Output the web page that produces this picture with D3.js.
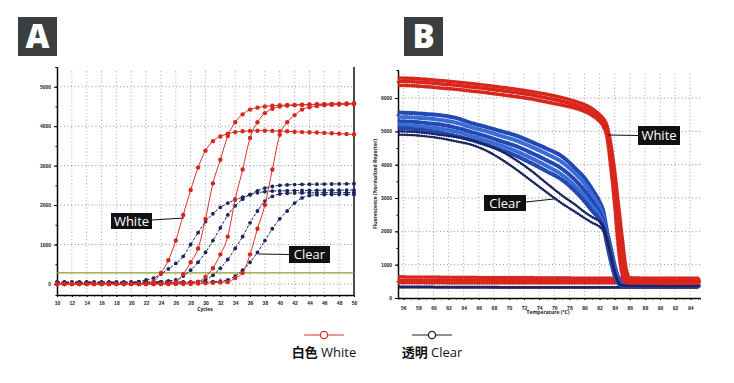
<!DOCTYPE html>
<html>
<head>
<meta charset="utf-8">
<script src="https://cdn.jsdelivr.net/npm/d3@7.9.0/dist/d3.min.js"></script>
<style>
  body { margin: 0; background: #fff; }
  svg { display: block; font-family: "Open Sans", "Noto Sans", sans-serif; }
  .tick-lbl { font-size: 5px; font-weight: bold; fill: #222; }
</style>
</head>
<body>
<svg id="chart" width="734" height="383"></svg>
<script>
// ---- Panel A: amplification curves (cycle 10..50)
const cycles = d3.range(10, 51);
const cycleTicks = d3.range(10, 51, 2);
const ampTicks = [0, 1000, 2000, 3000, 4000, 5000];
const threshold = 280;

const whiteAmp = [
  [0,0,0,0,0,0,0,0,0,0,0,0,10,60,280,600,1100,1750,2380,2950,3380,3620,3740,3810,3850,3870,3880,3885,3885,3880,3875,3870,3860,3850,3845,3840,3830,3820,3810,3800,3790],
  [0,0,0,0,0,0,0,0,0,0,0,0,0,0,10,20,50,250,550,900,1650,2550,3150,3750,4100,4300,4420,4470,4500,4520,4530,4535,4540,4545,4550,4555,4560,4565,4570,4575,4580],
  [0,0,0,0,0,0,0,0,0,0,0,0,0,0,0,0,10,20,30,60,180,400,750,1200,2150,2900,3700,4100,4330,4440,4500,4520,4530,4540,4545,4550,4555,4560,4565,4568,4570],
  [0,0,0,0,0,0,0,0,0,0,0,0,0,0,0,0,0,0,0,10,20,30,40,50,150,280,750,1400,2000,2900,3780,4100,4280,4420,4480,4510,4530,4540,4550,4555,4560]
];
const clearAmp = [
  [20,20,20,20,20,20,20,20,20,20,30,60,100,150,250,380,520,700,1000,1300,1580,1780,1940,2050,2130,2200,2260,2310,2340,2355,2360,2365,2368,2370,2372,2374,2375,2376,2378,2379,2380],
  [30,30,30,30,30,30,30,30,30,30,30,30,30,40,60,80,100,200,350,550,800,1100,1420,1750,1980,2150,2270,2360,2430,2470,2500,2510,2520,2525,2528,2530,2532,2534,2536,2538,2540],
  [40,40,40,40,40,40,40,40,40,40,40,40,40,40,40,40,40,40,40,50,100,220,400,620,900,1200,1550,1850,2100,2220,2280,2300,2305,2308,2310,2310,2312,2314,2315,2316,2318],
  [50,50,50,50,50,50,50,50,50,50,50,50,50,50,50,50,50,50,50,50,50,60,70,100,200,350,550,800,1100,1400,1650,1850,2050,2180,2240,2260,2265,2268,2270,2270,2270]
];

// ---- Panel B: melt curves
const temps = [55.5,57,59,61,63,65,67,69,71,73,75,77,79,80,81,82,82.5,83,83.5,84,84.5,85,85.5,86,88,90,92,95.2];
const tempTicks = d3.range(56, 95, 2);
const meltTicks = [0, 1000, 2000, 3000, 4000, 5000, 6000];

const whiteMelt = [
  [6600,6590,6560,6520,6480,6430,6380,6320,6260,6190,6110,6010,5880,5800,5680,5500,5380,5150,4600,3800,2800,1800,900,600,580,570,560,560],
  [6500,6490,6460,6420,6380,6330,6280,6220,6160,6090,6000,5900,5770,5690,5570,5400,5260,4950,4200,3200,2100,1200,650,520,510,500,500,500],
  [6380,6370,6340,6300,6260,6210,6160,6100,6040,5970,5880,5790,5680,5600,5480,5300,5150,4800,3900,2800,1500,700,480,450,450,445,440,440]
];
const whiteFlat = [
  [640,630,630,625,620,620,615,615,610,610,605,605,600,600,600,600,600,600,600,600,600,600,600,600,600,600,600,600],
  [540,540,535,535,530,530,530,525,525,525,520,520,520,520,520,520,520,520,520,520,520,520,520,520,520,520,520,520],
  [460,460,455,455,450,450,450,450,450,450,450,450,450,450,450,450,450,450,450,450,450,450,450,450,450,450,450,450]
];
const clearMelt = [
  [5560,5550,5520,5480,5400,5250,5130,5000,4870,4680,4480,4250,3840,3600,3270,2880,2600,2000,1500,980,600,420,400,400,390,390,380,380],
  [5430,5420,5390,5340,5260,5120,5000,4860,4720,4530,4320,4080,3680,3430,3100,2720,2450,1850,1350,850,520,400,390,390,385,385,380,380],
  [5300,5290,5250,5200,5110,4980,4850,4700,4550,4350,4130,3880,3480,3230,2920,2570,2300,1750,1250,760,480,380,380,380,375,375,370,370],
  [5200,5180,5140,5080,4990,4860,4720,4570,4400,4190,3960,3700,3300,3050,2760,2450,2200,1650,1150,700,450,380,375,375,370,370,370,370],
  [5100,5080,5030,4960,4860,4740,4600,4440,4260,4040,3800,3550,3150,2900,2620,2340,2120,1600,1100,680,440,370,370,370,365,365,360,360]
];
const clearDark = [
  [5000,4990,4950,4890,4830,4740,4590,4400,4130,3810,3440,3080,2760,2580,2430,2290,2150,1800,1300,800,480,380,370,370,365,365,360,360],
  [4900,4890,4850,4790,4700,4600,4420,4160,3850,3510,3170,2840,2550,2400,2260,2140,2020,1700,1250,780,470,370,360,360,355,355,350,350]
];
const clearFlat = [330,330,330,325,325,325,325,320,320,320,320,320,320,320,320,320,320,320,320,320,320,320,320,320,320,320,320,320];

const legendItems = [
  { zh: "白色", en: "White", color: "#e0312b" },
  { zh: "透明", en: "Clear", color: "#222" }
];

const RED = "#d9261c", NAVY = "#1c2560", BLUE = "#2348b4", LBLUE = "#3a6cd4";

const svg = d3.select("#chart");
svg.append("rect").attr("width", 734).attr("height", 383).attr("fill", "#fff");

function panelTag(x, letter) {
  svg.append("rect").attr("x", x).attr("y", 17).attr("width", 39).attr("height", 39).attr("fill", "#3a3e3e");
  svg.append("text").attr("x", x + 19.5).attr("y", 48).attr("text-anchor", "middle")
    .attr("font-size", 33).attr("font-weight", 800).attr("fill", "#fff").text(letter);
}
panelTag(18, "A");
panelTag(404, "B");

function callout(x, y, w, h, label, lx1, ly1, lx2, ly2) {
  svg.append("line").attr("x1", lx1).attr("y1", ly1).attr("x2", lx2).attr("y2", ly2)
    .attr("stroke", "#111").attr("stroke-width", 1.1);
  svg.append("rect").attr("x", x).attr("y", y).attr("width", w).attr("height", h).attr("fill", "#111");
  svg.append("text").attr("x", x + w / 2).attr("y", y + h / 2 + 4.5).attr("text-anchor", "middle")
    .attr("font-size", 13).attr("fill", "#fff").text(label);
}

const fmt = d3.format("d");

// ================= Panel A =================
const xA = d3.scaleLinear().domain([10, 50]).range([57, 354]);
const yA = d3.scaleLinear().domain([-280, 5500]).range([295, 67]);
const gA = svg.append("g");

// grid
gA.selectAll(".vg").data(cycleTicks.slice(1, -1)).join("line")
  .attr("x1", d => xA(d)).attr("x2", d => xA(d)).attr("y1", yA.range()[1] + 4).attr("y2", yA.range()[0])
  .attr("stroke", "#888").attr("stroke-width", 0.7).attr("stroke-dasharray", "1 2.5");
gA.selectAll(".hg").data(ampTicks).join("line")
  .attr("x1", xA(10)).attr("x2", xA(50)).attr("y1", d => yA(d)).attr("y2", d => yA(d))
  .attr("stroke", "#777").attr("stroke-width", 0.8).attr("stroke-dasharray", "1 2.5");

// axes
const axA = gA.append("g").attr("transform", `translate(0,${yA.range()[0]})`)
  .call(d3.axisBottom(xA).tickValues(cycleTicks).tickFormat(fmt).tickSize(2).tickSizeOuter(0));
const ayA = gA.append("g").attr("transform", `translate(${xA(10)},0)`)
  .call(d3.axisLeft(yA).tickValues(ampTicks).tickFormat(fmt).tickSize(3).tickSizeOuter(0));
gA.append("g").attr("transform", `translate(0,${yA.range()[0]})`)
  .call(d3.axisBottom(xA).tickValues(cycles).tickSize(1.5).tickFormat(""));
gA.append("g").attr("transform", `translate(${xA(10)},0)`)
  .call(d3.axisLeft(yA).tickValues(d3.range(0, 5501, 500)).tickSize(1.5).tickFormat(""));
gA.append("line").attr("x1", xA(50)).attr("x2", xA(50)).attr("y1", 67).attr("y2", yA.range()[0])
  .attr("stroke", "#111").attr("stroke-width", 1.5);
[axA, ayA].forEach(a => {
  a.selectAll(".domain").attr("stroke", "#111").attr("stroke-width", 1.5);
  a.selectAll("text").attr("class", "tick-lbl");
});
axA.selectAll("text").attr("dy", "0.9em");
gA.append("text").attr("x", 205).attr("y", 311).attr("text-anchor", "middle")
  .attr("class", "tick-lbl").text("Cycles");

// threshold
gA.append("line").attr("x1", xA(10)).attr("x2", xA(50)).attr("y1", yA(threshold)).attr("y2", yA(threshold))
  .attr("stroke", "#8f9a2c").attr("stroke-width", 1.3);

const lineA = d3.line().x((d, i) => xA(cycles[i])).y(d => yA(d)).curve(d3.curveMonotoneX);
function ampCurve(vals, stroke, fill, dash, r) {
  gA.append("path").attr("d", lineA(vals)).attr("fill", "none")
    .attr("stroke", stroke).attr("stroke-width", 1).attr("stroke-dasharray", dash);
  gA.append("g").selectAll("circle").data(vals).join("circle")
    .attr("cx", (d, i) => xA(cycles[i])).attr("cy", d => yA(d)).attr("r", r).attr("fill", fill);
}
clearAmp.forEach(v => ampCurve(v, NAVY, NAVY, "3 1.5", 1.9));
whiteAmp.forEach(v => ampCurve(v, "#d8322b", RED, null, 2.2));

callout(111, 213, 41, 16, "White", 152, 220, xA(27.1), 218);
callout(289, 246, 41, 17, "Clear", 289, 254.5, xA(37.2), 254);

// ================= Panel B =================
const xB = d3.scaleLinear().domain([55.3, 95.3]).range([398, 700]);
const yB = d3.scaleLinear().domain([0, 6840]).range([298, 70]);
const gB = svg.append("g");

gB.selectAll(".vg").data(tempTicks).join("line")
  .attr("x1", d => xB(d)).attr("x2", d => xB(d)).attr("y1", 74).attr("y2", yB(0))
  .attr("stroke", "#888").attr("stroke-width", 0.7).attr("stroke-dasharray", "1 2.5");
gB.selectAll(".hg").data(meltTicks.slice(1)).join("line")
  .attr("x1", xB(55.3)).attr("x2", xB(95.3)).attr("y1", d => yB(d)).attr("y2", d => yB(d))
  .attr("stroke", "#777").attr("stroke-width", 0.8).attr("stroke-dasharray", "1 2.5");

const axB = gB.append("g").attr("transform", `translate(0,${yB(0)})`)
  .call(d3.axisBottom(xB).tickValues(tempTicks).tickFormat(fmt).tickSize(2).tickSizeOuter(0));
const ayB = gB.append("g").attr("transform", `translate(${xB(55.3)},0)`)
  .call(d3.axisLeft(yB).tickValues(meltTicks).tickFormat(fmt).tickSize(3).tickSizeOuter(0));
gB.append("g").attr("transform", `translate(0,${yB(0)})`)
  .call(d3.axisBottom(xB).tickValues(d3.range(56, 95.5, 1)).tickSize(1.5).tickFormat(""));
gB.append("g").attr("transform", `translate(${xB(55.3)},0)`)
  .call(d3.axisLeft(yB).tickValues(d3.range(0, 6600, 500)).tickSize(1.5).tickFormat(""));
[axB, ayB].forEach(a => {
  a.selectAll(".domain").attr("stroke", "#111").attr("stroke-width", 1.5);
  a.selectAll("text").attr("class", "tick-lbl");
});
axB.selectAll("text").attr("dy", "1.3em");
gB.append("text").attr("x", 548).attr("y", 314).attr("text-anchor", "middle")
  .attr("class", "tick-lbl").text("Temperature (°C)");
gB.append("text").attr("transform", "translate(377,184) rotate(-90)").attr("text-anchor", "middle")
  .attr("class", "tick-lbl").text("Fluorescence (Normalized Reporter)");

const lineB = d3.line().x((d, i) => xB(temps[i])).y(d => yB(d)).curve(d3.curveMonotoneX);
function meltCurve(vals, color, w) {
  gB.append("path").attr("d", lineB(vals)).attr("fill", "none")
    .attr("stroke", color).attr("stroke-width", w * 0.5);
  gB.append("path").attr("d", lineB(vals)).attr("fill", "none")
    .attr("stroke", color).attr("stroke-width", w)
    .attr("stroke-linecap", "round").attr("stroke-dasharray", "0.1 2.4");
}
meltCurve(clearFlat, NAVY, 3.4);
whiteFlat.forEach(v => meltCurve(v, RED, 3.6));
clearMelt.forEach((v, i) => meltCurve(v, i % 2 ? LBLUE : BLUE, 4.2));
clearDark.forEach(v => meltCurve(v, NAVY, 2.6));
whiteMelt.forEach(v => meltCurve(v, RED, 3.8));

callout(638, 126, 42, 19, "White", 638, 135.5, 608, 135);
callout(484, 195, 42, 16, "Clear", 526, 202, 554, 199);

// ================= Legend =================
const lg = svg.append("g");
legendItems.forEach((it, i) => {
  const cx = i === 0 ? 324 : 432;
  lg.append("line").attr("x1", cx - 20).attr("x2", cx + 20).attr("y1", 335).attr("y2", 335)
    .attr("stroke", it.color).attr("stroke-width", 1.2);
  lg.append("circle").attr("cx", cx).attr("cy", 335).attr("r", 3.6)
    .attr("fill", "#fff").attr("stroke", it.color).attr("stroke-width", 1.3);
  const t = lg.append("text").attr("x", cx).attr("y", 357).attr("text-anchor", "middle")
    .attr("font-size", 13).attr("fill", "#111");
  t.append("tspan").attr("font-family", "'Noto Sans CJK SC'").attr("font-weight", "bold").text(it.zh);
  t.append("tspan").text(" " + it.en);
});
</script>
</body>
</html>
